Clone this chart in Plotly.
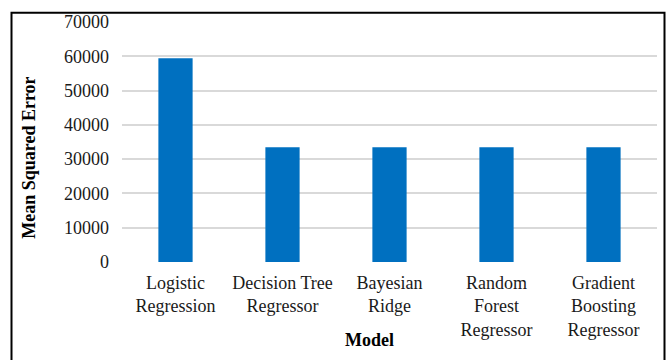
import plotly.graph_objects as go

categories = ["Logistic<br>Regression", "Decision Tree<br>Regressor", "Bayesian<br>Ridge",
              "Random<br>Forest<br>Regressor", "Gradient<br>Boosting<br>Regressor"]
mse_values = [59400, 33500, 33500, 33500, 33500]
y_ticks = [0, 10000, 20000, 30000, 40000, 50000, 60000, 70000]

W, H = 669, 360
L, R, T, B = 122, 12, 18, 98
pw, ph = W - L - R, H - T - B

def px(x):
    return (x - L) / pw

def py(y):
    return (H - B - y) / ph

FONT = "Liberation Serif, Times New Roman, serif"

fig = go.Figure()
fig.add_trace(go.Bar(x=categories, y=mse_values, marker=dict(color="#0070C0", line=dict(width=0)),
                     width=0.32))

fig.update_layout(
    width=W, height=H,
    margin=dict(l=L, r=R, t=T, b=B),
    paper_bgcolor="white", plot_bgcolor="white",
    font=dict(family=FONT, size=18, color="#1a1a1a"),
    showlegend=False,
    xaxis=dict(showgrid=False, zeroline=False, showline=False, ticks="",
               tickfont=dict(size=18, family=FONT, color="#1a1a1a"), ticklabelstandoff=8),
    yaxis=dict(range=[0, 70000], tickvals=y_ticks, ticktext=[str(v) for v in y_ticks],
               showgrid=True, gridcolor="#d9d9d9", gridwidth=2, zeroline=False,
               showline=False, ticks="", ticklabelstandoff=12,
               tickfont=dict(size=18, family=FONT, color="#1a1a1a")),
    shapes=[dict(type="rect", xref="paper", yref="paper",
                 x0=px(11.5), x1=px(664.5), y0=py(8.5), y1=py(420),
                 line=dict(color="black", width=2), fillcolor="rgba(0,0,0,0)")],
    annotations=[
        dict(text="<b>Model</b>", xref="paper", yref="paper", x=px(369), y=py(341),
             xanchor="center", yanchor="middle", showarrow=False,
             font=dict(size=18, family=FONT, color="black")),
        dict(text="<b>Mean Squared Error</b>", xref="paper", yref="paper", x=px(29), y=py(156),
             xanchor="center", yanchor="middle", showarrow=False, textangle=-90,
             font=dict(size=18, family=FONT, color="black")),
    ],
)

fig.write_html("out.html", config={"displayModeBar": False},
               post_script="document.body.style.margin='0';document.body.style.overflow='hidden';")
